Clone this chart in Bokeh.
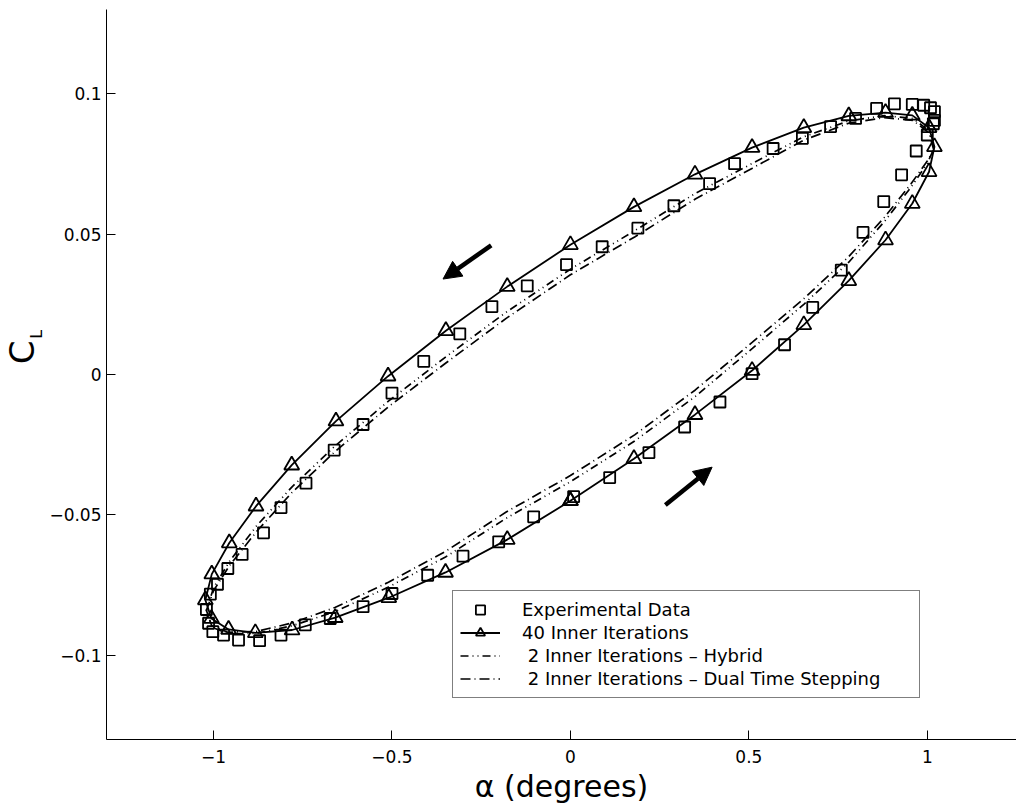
import math
from bokeh.plotting import figure
from bokeh.layouts import row
from bokeh.core.properties import value
from bokeh.models import (Range1d, FixedTicker, CustomJSTickFormatter,
                          Arrow, NormalHead, Legend, LegendItem)
from bokeh.embed import file_html
from bokeh.resources import INLINE

# ---------------- data ----------------
exp_alpha = [0.858, 0.908, 0.958, 0.990, 1.009, 1.020, 1.020, 1.017, 1.000, 0.969,
             0.928, 0.878, 0.820, 0.759, 0.679, 0.600, 0.509, 0.419, 0.320, 0.220,
             0.110, 0.009, -0.103, -0.201, -0.301, -0.400, -0.500, -0.581, -0.673, -0.743,
             -0.811, -0.871, -0.930, -0.972, -1.002, -1.014, -1.020, -1.009, -0.989, -0.960,
             -0.920, -0.860, -0.811, -0.741, -0.662, -0.581, -0.500, -0.411, -0.310, -0.220,
             -0.121, -0.011, 0.089, 0.189, 0.290, 0.390, 0.460, 0.568, 0.650, 0.729, 0.799]
exp_cl = [0.0948, 0.0964, 0.0962, 0.0959, 0.0950, 0.0936, 0.0905, 0.0893, 0.0853, 0.0796,
          0.0711, 0.0616, 0.0506, 0.0372, 0.0239, 0.0106, 0.0003, -0.0098, -0.0187, -0.0278,
          -0.0367, -0.0435, -0.0507, -0.0596, -0.0647, -0.0715, -0.0780, -0.0827, -0.0869, -0.0892,
          -0.0928, -0.0948, -0.0946, -0.0928, -0.0916, -0.0886, -0.0837, -0.0782, -0.0747, -0.0691,
          -0.0641, -0.0564, -0.0474, -0.0387, -0.0269, -0.0178, -0.0066, 0.0047, 0.0145, 0.0242,
          0.0316, 0.0391, 0.0455, 0.0521, 0.0601, 0.0680, 0.0751, 0.0805, 0.0841, 0.0883, 0.0912]

it40_alpha = [0.000, 0.178, 0.349, 0.509, 0.654, 0.780, 0.883, 0.958, 1.005, 1.020,
              1.005, 0.958, 0.883, 0.780, 0.654, 0.509, 0.349, 0.178, 0.000, -0.177,
              -0.349, -0.511, -0.657, -0.781, -0.881, -0.956, -1.005, -1.023, -1.006, -0.958,
              -0.883, -0.780, -0.659, -0.509, -0.350, -0.177, 0.000]
it40_cl = [-0.0450, -0.0300, -0.0143, 0.0014, 0.0177, 0.0334, 0.0479, 0.0609, 0.0722, 0.0811,
           0.0879, 0.0923, 0.0933, 0.0921, 0.0879, 0.0808, 0.0713, 0.0597, 0.0462, 0.0313,
           0.0156, -0.0006, -0.0166, -0.0323, -0.0469, -0.0600, -0.0711, -0.0803, -0.0869, -0.0908,
           -0.0920, -0.0910, -0.0866, -0.0795, -0.0705, -0.0588, -0.0450]

hyb_alpha = [1.019, 1.005, 0.960, 0.880, 0.780, 0.654, 0.510, 0.350, 0.180, 0.000,
             -0.180, -0.350, -0.510, -0.660, -0.780, -0.880, -0.955, -1.000, -1.020, -1.005,
             -0.960, -0.880, -0.780, -0.660, -0.510, -0.350, -0.180, 0.000, 0.180, 0.350,
             0.510, 0.654, 0.780, 0.880, 0.955, 1.000, 1.019]
hyb_cl = [0.0805, 0.0868, 0.0912, 0.0922, 0.0903, 0.0847, 0.0752, 0.0645, 0.0512, 0.0375,
          0.0222, 0.0062, -0.0095, -0.0255, -0.0400, -0.0540, -0.0665, -0.0760, -0.0840, -0.0900,
          -0.0923, -0.0922, -0.0895, -0.0845, -0.0757, -0.0650, -0.0512, -0.0382, -0.0237, -0.0078,
          0.0093, 0.0250, 0.0400, 0.0545, 0.0668, 0.0752, 0.0805]

dts_alpha = [1.018, 1.005, 0.960, 0.880, 0.780, 0.654, 0.510, 0.350, 0.180, 0.000,
             -0.180, -0.350, -0.510, -0.660, -0.780, -0.880, -0.955, -1.000, -1.020, -1.005,
             -0.960, -0.880, -0.780, -0.660, -0.510, -0.350, -0.180, 0.000, 0.180, 0.350,
             0.510, 0.654, 0.780, 0.880, 0.955, 1.000, 1.018]
dts_cl = [0.0800, 0.0860, 0.0905, 0.0915, 0.0895, 0.0835, 0.0735, 0.0625, 0.0490, 0.0355,
          0.0200, 0.0040, -0.0115, -0.0275, -0.0420, -0.0560, -0.0680, -0.0770, -0.0840, -0.0895,
          -0.0918, -0.0915, -0.0885, -0.0830, -0.0740, -0.0630, -0.0490, -0.0360, -0.0215, -0.0055,
          0.0115, 0.0270, 0.0420, 0.0560, 0.0680, 0.0760, 0.0800]

arrow_x_start = [-0.222, 0.266]
arrow_y_start = [0.0460, -0.0465]
arrow_x_end = [-0.357, 0.397]
arrow_y_end = [0.0340, -0.0330]

x_ticks = [-1, -0.5, 0, 0.5, 1]
y_ticks = [-0.1, -0.05, 0, 0.05, 0.1]

legend_labels = ["Experimental Data", "40 Inner Iterations",
                 " 2 Inner Iterations \u2013 Hybrid",
                 " 2 Inner Iterations \u2013 Dual Time Stepping"]
x_label = "\u03b1 (degrees)"
y_label_main = "C"
y_label_sub = "L"

FONT = "DejaVu Sans"
LEFT_W = 46          # width of the strip that carries the y-axis title
H = 809

# ---------------- y-axis title strip ----------------
lab = figure(width=LEFT_W, height=H, output_backend="svg", toolbar_location=None,
             x_range=Range1d(0, LEFT_W), y_range=Range1d(0, H),
             x_axis_location=None, y_axis_location=None,
             min_border=0, outline_line_color=None)
lab.xgrid.visible = False
lab.ygrid.visible = False
lab.background_fill_color = "white"
lab.border_fill_color = "white"
lab.text(x=[21.0], y=[H - 380], text=[y_label_main], angle=math.pi / 2,
         text_align="center", text_baseline="middle", text_font=value(FONT),
         text_font_size="34px", text_color="black")
lab.text(x=[36.0], y=[H - 360], text=[y_label_sub], angle=math.pi / 2,
         text_align="center", text_baseline="middle", text_font=value(FONT),
         text_font_size="16px", text_color="black")

# ---------------- main figure ----------------
p = figure(width=1016 - LEFT_W, height=H, output_backend="svg", toolbar_location=None,
           x_range=Range1d(-1.3, 1.25), y_range=Range1d(-0.13, 0.13),
           min_border_left=106 - LEFT_W, min_border_right=0, min_border_top=9,
           min_border_bottom=70)
p.outline_line_color = None
p.background_fill_color = "white"
p.border_fill_color = "white"
p.xgrid.visible = False
p.ygrid.visible = False

fmt = CustomJSTickFormatter(code="""
const v = Math.round(tick * 1000) / 1000;
let s = (v === 0) ? "0" : String(v);
return s.replace("-", "\\u2212");
""")

for ax, ticks in ((p.xaxis[0], x_ticks), (p.yaxis[0], y_ticks)):
    ax.ticker = FixedTicker(ticks=ticks)
    ax.formatter = fmt
    ax.major_tick_in = 9
    ax.major_tick_out = 0
    ax.minor_tick_in = 0
    ax.minor_tick_out = 0
    ax.axis_line_color = "black"
    ax.axis_line_width = 1
    ax.major_tick_line_color = "black"
    ax.major_label_text_font = FONT
    ax.major_label_text_font_size = "17px"
    ax.major_label_text_color = "black"
p.xaxis[0].major_label_standoff = 10
p.yaxis[0].major_label_standoff = 5
p.xaxis[0].axis_label = x_label
p.xaxis[0].axis_label_text_font = FONT
p.xaxis[0].axis_label_text_font_size = "30px"
p.xaxis[0].axis_label_text_font_style = "normal"
p.xaxis[0].axis_label_text_color = "black"
p.xaxis[0].axis_label_standoff = 3

# ---------------- glyphs ----------------
r_dts = p.line(dts_alpha, dts_cl, line_color="black", line_width=1.7, line_dash="10 4 1 4")
r_hyb = p.line(hyb_alpha, hyb_cl, line_color="black", line_width=1.7, line_dash="8 4 1 4 1 4")
r_40l = p.line(it40_alpha, it40_cl, line_color="black", line_width=1.8)
r_40m = p.scatter(it40_alpha, it40_cl, marker="triangle", size=15, line_color="black",
                  line_width=1.8, fill_color=None)
r_exp = p.scatter(exp_alpha, exp_cl, marker="square", size=11, line_color="black",
                  line_width=1.8, fill_color=None)

for xs, ys, xe, ye in zip(arrow_x_start, arrow_y_start, arrow_x_end, arrow_y_end):
    p.add_layout(Arrow(end=NormalHead(size=18, fill_color="black", line_color="black",
                                      line_width=1),
                       x_start=xs, y_start=ys, x_end=xe, y_end=ye,
                       line_color="black", line_width=4.5))

# ---------------- legend ----------------
legend = Legend(items=[
    LegendItem(label=legend_labels[0], renderers=[r_exp]),
    LegendItem(label=legend_labels[1], renderers=[r_40l, r_40m]),
    LegendItem(label=legend_labels[2], renderers=[r_hyb]),
    LegendItem(label=legend_labels[3], renderers=[r_dts]),
], location=(346, 41))
legend.label_text_font = FONT
legend.label_text_font_size = "18px"
legend.label_text_color = "black"
legend.border_line_color = "black"
legend.border_line_width = 1
legend.background_fill_color = "white"
legend.background_fill_alpha = 1
legend.padding = 7
legend.spacing = 0
legend.margin = 0
legend.glyph_width = 40
legend.glyph_height = 23
legend.label_height = 23
legend.label_standoff = 22
legend.label_width = 390
p.add_layout(legend)

layout = row(lab, p, spacing=0)

with open("out.html", "w", encoding="utf-8") as f:
    f.write(file_html(layout, INLINE))
